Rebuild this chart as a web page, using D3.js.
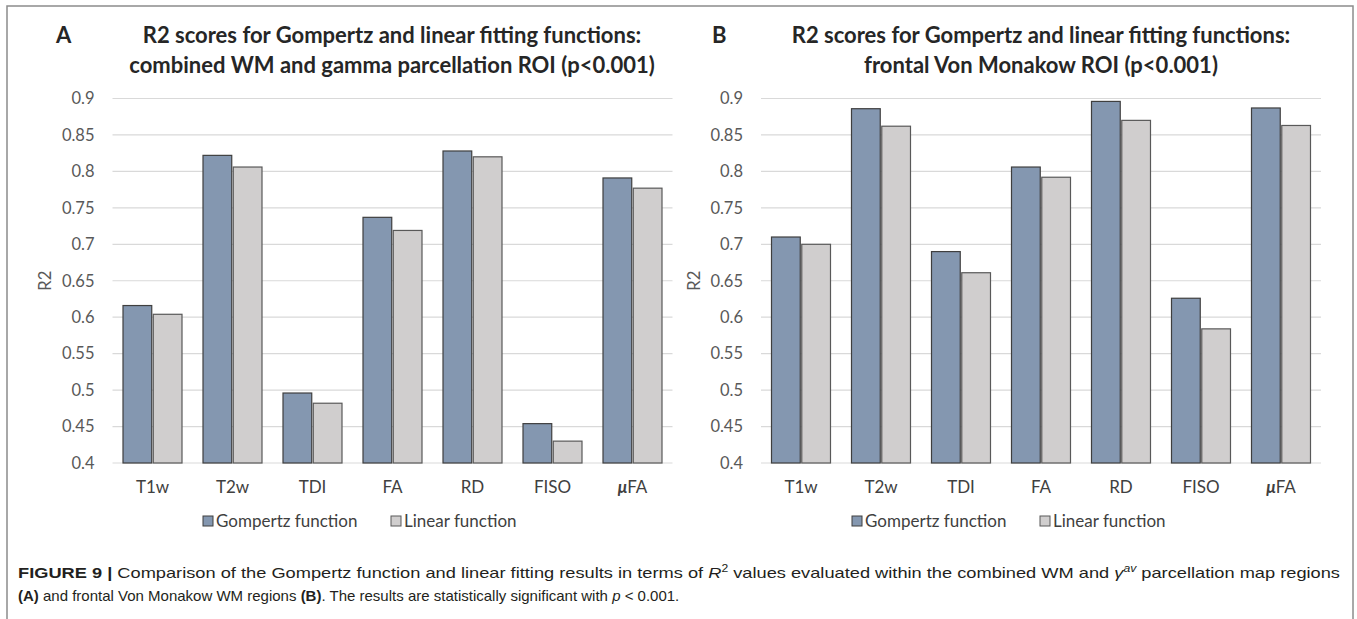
<!DOCTYPE html>
<html>
<head>
<meta charset="utf-8">
<script src="https://cdn.jsdelivr.net/npm/d3@7"></script>
<style>
  body { margin: 0; background: #fff; }
  svg { display: block; }
</style>
</head>
<body>
<svg id="chart" width="1357" height="619"></svg>
<script>
// data
let categories = ['T1w', 'T2w', 'TDI', 'FA', 'RD', 'FISO', 'μFA']
let series = ['Gompertz function', 'Linear function']
let gompertzA = [0.616, 0.822, 0.496, 0.737, 0.828, 0.454, 0.791]
let linearA   = [0.604, 0.806, 0.482, 0.719, 0.820, 0.430, 0.777]
let gompertzB = [0.710, 0.886, 0.690, 0.806, 0.896, 0.626, 0.887]
let linearB   = [0.700, 0.862, 0.661, 0.792, 0.870, 0.584, 0.863]
let yTicks = [0.4, 0.45, 0.5, 0.55, 0.6, 0.65, 0.7, 0.75, 0.8, 0.85, 0.9]

let colors = { 'Gompertz function': '#8497b0', 'Linear function': '#d0cece' }
let strokes = { 'Gompertz function': '#3f3f3f', 'Linear function': '#595959' }
let font = 'Lato, "Open Sans", sans-serif'

const svg = d3.select('#chart')

// outer frame
svg.append('rect')
  .attr('x', 7).attr('y', 6)
  .attr('width', 1346).attr('height', 640)
  .attr('fill', 'none')
  .attr('stroke', '#8c8c8c')
  .attr('stroke-width', 1.5)

let y = d3.scaleLinear().domain([0.4, 0.9]).range([463, 98.5])

function drawPanel(opt) {
  let g = svg.append('g')
  let x0 = d3.scaleBand()
    .domain(categories)
    .range([opt.left, opt.left + 560])
    .paddingInner(0.2625)
    .paddingOuter(0.13125)
  let x1 = d3.scaleBand()
    .domain(series)
    .range([0, x0.bandwidth()])
    .paddingInner(0.05)

  // gridlines
  g.append('g')
    .selectAll('line')
    .data(yTicks)
    .join('line')
      .attr('x1', opt.left).attr('x2', opt.left + 560)
      .attr('y1', d => y(d)).attr('y2', d => y(d))
      .attr('stroke', '#d9d9d9')
      .attr('stroke-width', 1.2)

  // y axis labels
  g.append('g')
    .attr('transform', `translate(${opt.left - 18},0)`)
    .call(d3.axisLeft(y).tickValues(yTicks).tickSize(0).tickPadding(0).tickFormat(d3.format('~g')))
    .call(g => g.select('.domain').remove())
    .call(g => g.selectAll('text')
      .attr('font-family', font)
      .attr('font-size', 16.5)
      .attr('fill', '#595959'))

  // y axis title
  g.append('text')
    .attr('transform', `translate(${opt.left - 67},${y(0.65)}) rotate(-90)`)
    .attr('text-anchor', 'middle')
    .attr('dy', '0.35em')
    .attr('font-family', font)
    .attr('font-size', 16.5)
    .attr('fill', '#595959')
    .text('R2')

  // bars
  let rows = categories.map((c, i) => ({ cat: c, vals: [
    { s: series[0], v: opt.gompertz[i] },
    { s: series[1], v: opt.linear[i] }
  ] }))

  g.append('g')
    .selectAll('g')
    .data(rows)
    .join('g')
      .attr('transform', d => `translate(${x0(d.cat)},0)`)
    .selectAll('rect')
    .data(d => d.vals)
    .join('rect')
      .attr('x', d => x1(d.s))
      .attr('y', d => y(d.v))
      .attr('width', x1.bandwidth())
      .attr('height', d => y(0.4) - y(d.v))
      .attr('fill', d => colors[d.s])
      .attr('stroke', d => strokes[d.s])
      .attr('stroke-width', 1.2)

  // x axis
  g.append('g')
    .attr('transform', `translate(0,${y(0.4)})`)
    .call(d3.axisBottom(x0).tickSize(0).tickPadding(18))
    .call(g => g.select('.domain').remove())
    .call(g => g.selectAll('text')
      .attr('font-family', font)
      .attr('font-size', 17)
      .attr('fill', '#404040'))
    .call(g => g.selectAll('.tick text')
      .filter(d => d === 'μFA')
      .text(null)
      .call(t => t.append('tspan').attr('font-style', 'italic').attr('font-weight', 'bold').text('μ'))
      .call(t => t.append('tspan').text('FA')))

  // legend
  let lg = g.append('g')
    .attr('transform', `translate(${opt.legendX},521)`)
  let items = lg.selectAll('g')
    .data(series)
    .join('g')
      .attr('transform', (d, i) => `translate(${i * 188},0)`)
  items.append('rect')
    .attr('x', 0).attr('y', -5)
    .attr('width', 10).attr('height', 10)
    .attr('fill', d => colors[d])
    .attr('stroke', d => strokes[d])
  items.append('text')
    .attr('x', 13)
    .attr('dy', '0.35em')
    .attr('font-family', font)
    .attr('font-size', 17)
    .attr('fill', '#404040')
    .text(d => d)

  // panel letter and title
  g.append('text')
    .attr('x', opt.letterX).attr('y', 43)
    .attr('font-family', font)
    .attr('font-weight', 'bold')
    .attr('font-size', 22)
    .attr('fill', '#262626')
    .text(opt.letter)
  g.selectAll('.title')
    .data(opt.title)
    .join('text')
      .attr('class', 'title')
      .attr('x', opt.titleX)
      .attr('y', (d, i) => 43 + i * 30)
      .attr('text-anchor', 'middle')
      .attr('font-family', font)
      .attr('font-weight', 'bold')
      .attr('font-size', 22)
      .attr('fill', '#262626')
      .text(d => d)
}

drawPanel({
  left: 112.5, gompertz: gompertzA, linear: linearA,
  letter: 'A', letterX: 56, titleX: 392, legendX: 203,
  title: ['R2 scores for Gompertz and linear fitting functions:',
          'combined WM and gamma parcellation ROI (p<0.001)']
})
drawPanel({
  left: 761, gompertz: gompertzB, linear: linearB,
  letter: 'B', letterX: 712, titleX: 1041, legendX: 852,
  title: ['R2 scores for Gompertz and linear fitting functions:',
          'frontal Von Monakow ROI (p<0.001)']
})

// caption
let cap = svg.append('g')
  .attr('font-family', '"Liberation Sans Narrow", "Liberation Sans", Arial, sans-serif')
  .attr('font-size', 15)
  .attr('fill', '#231f20')
let l1 = cap.append('text').attr('x', 18).attr('y', 578)
  .attr('textLength', 1322).attr('lengthAdjust', 'spacingAndGlyphs')
l1.append('tspan').attr('font-weight', 'bold').text('FIGURE 9 | ')
l1.append('tspan').text('Comparison of the Gompertz function and linear fitting results in terms of ')
l1.append('tspan').attr('font-style', 'italic').text('R')
l1.append('tspan').attr('font-size', 10).attr('dy', -6).text('2')
l1.append('tspan').attr('dy', 6).text(' values evaluated within the combined WM and ')
l1.append('tspan').attr('font-style', 'italic').text('γ')
l1.append('tspan').attr('font-style', 'italic').attr('font-size', 10).attr('dy', -6).text('av')
l1.append('tspan').attr('dy', 6).text(' parcellation map regions')

let l2 = cap.append('text').attr('x', 18).attr('y', 601)
l2.append('tspan').attr('font-weight', 'bold').text('(A)')
l2.append('tspan').text(' and frontal Von Monakow WM regions ')
l2.append('tspan').attr('font-weight', 'bold').text('(B)')
l2.append('tspan').text('. The results are statistically significant with ')
l2.append('tspan').attr('font-style', 'italic').text('p')
l2.append('tspan').text(' < 0.001.')
</script>
</body>
</html>
